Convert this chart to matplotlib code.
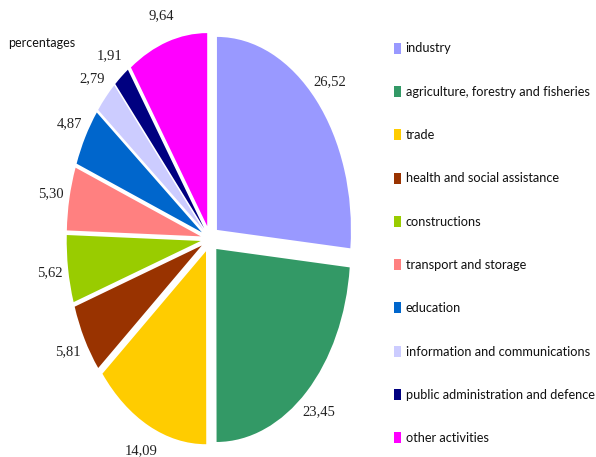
import matplotlib
matplotlib.use('Agg')
import matplotlib.pyplot as plt

# data (percentages)
sectors = ['industry', 'agriculture, forestry and fisheries', 'trade',
           'health and social assistance', 'constructions', 'transport and storage',
           'education', 'information and communications',
           'public administration and defence', 'other activities']
shares = [26.52, 23.45, 14.09, 5.81, 5.62, 5.30, 4.87, 2.79, 1.91, 9.64]
colors = ['#9999FF', '#339966', '#FFCC00', '#993300', '#99CC00', '#FF8080',
          '#0066CC', '#CCCCFF', '#000080', '#FF00FF']

W, H = 596, 457
fig = plt.figure(figsize=(W / 100, H / 100), dpi=100)
ax = fig.add_axes([0, 0, 1, 1])

labels = [f'{v:.2f}'.replace('.', ',') for v in shares]
wedges, texts = ax.pie(shares, colors=colors, labels=labels, startangle=90,
                       counterclock=False, explode=[0.07] * len(shares),
                       labeldistance=1.14,
                       textprops=dict(family=['Liberation Serif', 'DejaVu Serif'],
                                      fontsize=10.5, color='#222222'),
                       wedgeprops=dict(linewidth=0))
for t in texts:
    t.set_ha('center')
    t.set_va('center')

# stretched (elliptical) pie like the reference
cx, cy, sx, sy = 210, 239, 134, 193
ax.set_aspect('auto')
ax.set_xlim(-cx / sx, (W - cx) / sx)
ax.set_ylim(-(H - cy) / sy, cy / sy)
ax.axis('off')

sans = ['Lato', 'DejaVu Sans']
fig.text(8 / W, 1 - 43 / H, 'percentages', ha='left', va='center',
         family=sans, fontsize=9, color='#111111')

leg = fig.legend(wedges, sectors, loc='upper left', bbox_to_anchor=(382 / W, 1 - 31 / H),
                 frameon=False, handlelength=0.6, handleheight=0.95,
                 handletextpad=0.35, labelspacing=2.45,
                 prop=dict(family=sans, size=9.2))
for t in leg.get_texts():
    t.set_color('#111111')

fig.savefig('out.png', dpi=100, facecolor='white')
